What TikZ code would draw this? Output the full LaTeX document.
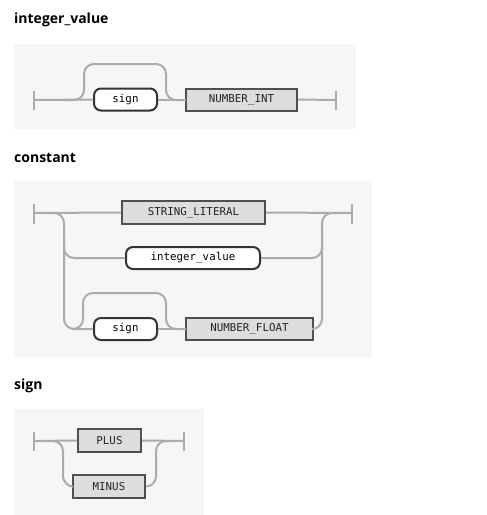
\documentclass[tikz,border=0pt]{standalone}
\usepackage{fontspec}
\setsansfont{Open Sans}
\newfontfamily\monof{DejaVu Sans Mono}
\definecolor{panelc}{HTML}{F6F6F6}
\definecolor{railc}{HTML}{ABABAB}
\definecolor{termfill}{HTML}{DDDDDD}
\definecolor{termdraw}{HTML}{505050}
\definecolor{ntdraw}{HTML}{333333}
\definecolor{txtc}{HTML}{222222}
\begin{document}
\begin{tikzpicture}[x=1pt,y=-1pt,
  panel/.style={fill=panelc,draw=none},
  rail/.style={draw=railc,line width=2pt,rounded corners=10pt},
  barline/.style={draw=railc,line width=2pt},
  term/.style={rectangle,fill=termfill,draw=termdraw,line width=2pt,inner sep=0pt,
    minimum height=22pt,text=txtc,font=\monof\fontsize{10.8}{12}\selectfont},
  nonterm/.style={rectangle,rounded corners=7pt,fill=white,draw=ntdraw,line width=2pt,inner sep=0pt,
    minimum height=22pt,text=black,font=\monof\fontsize{10.8}{12}\selectfont},
  title/.style={anchor=base west,inner sep=0pt,font=\sffamily\bfseries\fontsize{14}{16}\selectfont}]
\useasboundingbox (0,0) rectangle (487,515);
% ---------- integer_value ----------
\node[title] (t1) at (14,23) {integer\_value};
\fill[panel] (14,44) rectangle (356,129);
\coordinate (s1) at (34,100);
\coordinate (e1) at (336,100);
\node[nonterm,minimum width=63pt] (sign1) at (125.5,99.5) {sign};
\node[term,minimum width=111pt] (nint) at (241.5,99.5) {NUMBER\_INT};
\draw[barline] ([yshift=-10pt]s1) -- ([yshift=9pt]s1);
\draw[barline] ([yshift=-10pt]e1) -- ([yshift=9pt]e1);
\draw[rail] (s1) -- (sign1.west);
\draw[rail] (sign1.east) -- (nint.west);
\draw[rail] (nint.east) -- (e1);
\draw[rail] (64,100) -| (84,64) -| (166,100) -- (186,100);
% ---------- constant ----------
\node[title] (t2) at (14,162) {constant};
\fill[panel] (14,181) rectangle (372,358);
\coordinate (s2) at (34,213);
\coordinate (e2) at (352,213);
\node[term,minimum width=143pt,minimum height=23pt] (strl) at (193.5,212.5) {STRING\_LITERAL};
\node[nonterm,minimum width=134pt] (intv) at (193,258) {integer\_value};
\node[nonterm,minimum width=63pt] (sign2) at (125.5,329) {sign};
\node[term,minimum width=127pt] (nfl) at (249.5,329) {NUMBER\_FLOAT};
\draw[barline] ([yshift=-11pt]s2) -- ([yshift=9pt]s2);
\draw[barline] ([yshift=-11pt]e2) -- ([yshift=9pt]e2);
\draw[rail] (s2) -- (strl.west);
\draw[rail] (strl.east) -- (e2);
\draw[rail] (44,213) -| (64,329) -- (sign2.west);
\draw[rail] (64,235) |- (intv.west);
\draw[rail] (sign2.east) -- (nfl.west);
\draw[rail] (74,329) -| (83,293) -| (166,329) -- (186,329);
\draw[rail] (nfl.east) -| (322,213) -- (342,213);
\draw[rail] (intv.east) -| (322,235);
% ---------- sign ----------
\node[title] (t3) at (14,389) {sign};
\fill[panel] (14,409) rectangle (204,515);
\coordinate (s3) at (34,441);
\coordinate (e3) at (184,441);
\node[term,minimum width=63pt,minimum height=23pt] (plus) at (109.5,440.5) {PLUS};
\node[term,minimum width=72pt,minimum height=23pt] (minus) at (109,486.5) {MINUS};
\draw[barline] ([yshift=-10pt]s3) -- ([yshift=9pt]s3);
\draw[barline] ([yshift=-10pt]e3) -- ([yshift=9pt]e3);
\draw[rail] (s3) -- (plus.west);
\draw[rail] (plus.east) -- (e3);
\draw[rail] (43,441) -| (63,486) -- (minus.west);
\draw[rail] (minus.east) -| (156,441) -- (176,441);
\end{tikzpicture}
\end{document}
